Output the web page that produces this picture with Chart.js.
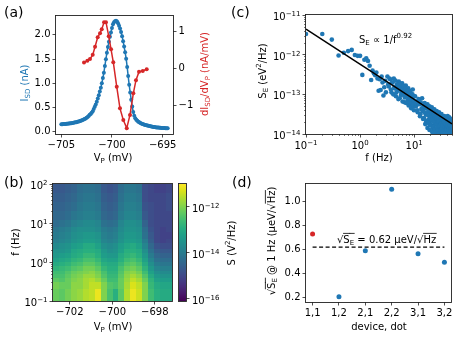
<!DOCTYPE html>
<html><head><meta charset="utf-8">
<script src="https://cdn.jsdelivr.net/npm/chart.js@4/dist/chart.umd.min.js"></script>
<style>
html,body{margin:0;padding:0;background:#fff;overflow:hidden}
#fig{position:relative;width:463px;height:346px;background:#fff}
#fig canvas{position:absolute;left:0;top:0;width:463px;height:346px}
</style></head><body>
<div id="fig">
<canvas id="cA" width="463" height="346"></canvas>
<canvas id="cB" width="463" height="346"></canvas>
<canvas id="cCB" width="463" height="346"></canvas>
<canvas id="cC" width="463" height="346"></canvas>
<canvas id="cD" width="463" height="346"></canvas>
</div>
<script>
// ================= DATA =================
// (a) I_SD vs V_P (grid start/step) and dI/dV
const blueVStart = -705.0, blueVStep = 0.1;
const blueISD = [
 0.155,0.157,0.159,0.161,0.163,0.165,0.167,0.170,0.172,0.175,
 0.178,0.182,0.186,0.190,0.195,0.200,0.206,0.213,0.220,0.227,
 0.235,0.243,0.252,0.264,0.276,0.290,0.308,0.328,0.350,0.370,
 0.392,0.425,0.470,0.515,0.565,0.620,0.685,0.755,0.830,0.910,
 1.000,1.110,1.220,1.360,1.500,1.630,1.750,1.860,1.960,2.050,
 2.140,2.220,2.260,2.280,2.290,2.275,2.240,2.190,2.130,2.060,
 1.970,1.870,1.760,1.640,1.510,1.340,1.150,0.970,0.810,0.660,
 0.520,0.410,0.330,0.280,0.250,0.228,0.210,0.195,0.182,0.170,
 0.162,0.155,0.148,0.141,0.135,0.129,0.124,0.119,0.114,0.109,
 0.104,0.100,0.097,0.094,0.091,0.089,0.087,0.085,0.083,0.081,
 0.079,0.078,0.077,0.076,0.075,0.074];
const redV  = [-702.76,-702.43,-702.17,-701.90,-701.67,-701.41,-701.18,-701.01,-700.78,-700.59,-700.32,-700.09,-699.87,-699.53,-699.21,-698.88,-698.54,-698.22,-697.89,-697.63,-697.33,-696.96,-696.57];
const redDI = [0.16,0.21,0.26,0.37,0.59,0.85,0.96,1.07,1.26,1.26,0.88,0.52,0.17,-0.50,-1.09,-1.41,-1.63,-1.27,-0.68,-0.32,-0.09,-0.07,-0.02];
const aTicksX = [-705,-700,-695];
const aTicksY = [0,0.5,1.0,1.5,2.0];
const aTicksY2 = [-1,0,1];

// (b) noise spectrogram, log10 S (V^2/Hz); rows = frequency bands, cols = V_P bins
const heatVEdges = [-702.79,-702.51,-702.23,-701.95,-701.67,-701.39,-701.11,-700.83,-700.55,-700.27,-699.99,-699.71,-699.43,-699.15,-698.87,-698.59,-698.31,-698.03,-697.75,-697.47,-697.19];
const heatFEdges = [0.1,0.2,0.3,0.4,0.5,0.6,0.8,1,1.3,1.7,2.2,3,4,6,8,12,20,35,60,100];
const heatLogS = [
 [-12.2,-12.3,-12.1,-11.9,-11.8,-11.6,-11.5,-11.15,-12.0,-12.5,-12.9,-12.3,-11.6,-11.15,-11.4,-12.0,-12.6,-12.9,-13.0,-13.0],
 [-12.1,-12.2,-12.2,-11.9,-11.9,-11.7,-11.5,-11.5,-12.0,-12.4,-12.5,-12.2,-11.7,-11.3,-11.5,-12.0,-12.7,-13.0,-13.1,-13.1],
 [-12.3,-12.4,-12.2,-12.0,-11.9,-11.7,-11.6,-11.8,-12.2,-12.6,-12.6,-12.2,-11.8,-11.5,-11.7,-12.2,-12.8,-13.2,-13.3,-13.3],
 [-12.5,-12.5,-12.3,-12.1,-12.0,-11.8,-11.8,-12.0,-12.4,-12.7,-12.7,-12.3,-11.9,-11.7,-11.9,-12.4,-13.0,-13.4,-13.5,-13.5],
 [-12.6,-12.6,-12.4,-12.2,-12.1,-12.0,-11.9,-12.1,-12.5,-12.8,-12.8,-12.4,-12.0,-11.9,-12.1,-12.6,-13.2,-13.6,-13.7,-13.7],
 [-12.8,-12.7,-12.6,-12.4,-12.3,-12.1,-12.1,-12.3,-12.7,-12.9,-12.9,-12.5,-12.2,-12.1,-12.3,-12.8,-13.4,-13.8,-13.9,-13.9],
 [-13.0,-12.9,-12.8,-12.6,-12.5,-12.3,-12.3,-12.5,-12.9,-13.0,-13.0,-12.7,-12.4,-12.3,-12.5,-13.0,-13.6,-14.0,-14.1,-14.1],
 [-13.2,-13.1,-13.0,-12.8,-12.7,-12.5,-12.5,-12.7,-13.1,-13.2,-13.2,-12.9,-12.6,-12.5,-12.7,-13.2,-13.8,-14.2,-14.3,-14.3],
 [-13.4,-13.3,-13.2,-13.0,-12.9,-12.7,-12.7,-12.9,-13.3,-13.4,-13.4,-13.0,-12.8,-12.7,-12.9,-13.4,-14.0,-14.4,-14.5,-14.5],
 [-13.5,-13.5,-13.4,-13.1,-13.0,-12.9,-12.9,-13.0,-13.4,-13.6,-13.5,-13.2,-12.9,-12.9,-13.0,-13.6,-14.2,-14.6,-14.7,-14.7],
 [-13.7,-13.6,-13.5,-13.3,-13.2,-13.0,-13.0,-13.2,-13.6,-13.7,-13.6,-13.3,-13.1,-13.0,-13.2,-13.8,-14.4,-14.8,-14.9,-14.9],
 [-13.9,-13.8,-13.7,-13.5,-13.4,-13.3,-13.3,-13.4,-13.8,-13.9,-13.8,-13.5,-13.3,-13.3,-13.4,-14.0,-14.6,-15.0,-15.1,-15.0],
 [-14.0,-13.9,-13.8,-13.6,-13.5,-13.4,-13.4,-13.5,-13.9,-14.0,-13.9,-13.6,-13.4,-13.4,-13.5,-14.2,-14.7,-15.0,-15.1,-15.1],
 [-14.1,-14.0,-13.9,-13.7,-13.6,-13.6,-13.6,-13.7,-14.0,-14.1,-14.0,-13.7,-13.5,-13.5,-13.6,-14.3,-14.8,-15.0,-15.1,-15.0],
 [-14.3,-14.2,-14.1,-13.9,-13.8,-13.7,-13.7,-13.8,-14.2,-14.3,-14.2,-13.8,-13.6,-13.6,-13.7,-14.5,-14.9,-15.0,-15.0,-15.0],
 [-14.4,-14.4,-14.3,-14.1,-14.0,-13.9,-13.9,-14.0,-14.4,-14.5,-14.4,-14.0,-13.8,-13.8,-13.9,-14.7,-14.9,-15.0,-15.0,-15.0],
 [-14.5,-14.5,-14.4,-14.3,-14.1,-14.0,-14.0,-14.1,-14.5,-14.6,-14.5,-14.1,-13.9,-13.9,-14.0,-14.8,-14.9,-15.0,-15.0,-14.9],
 [-14.6,-14.6,-14.5,-14.4,-14.2,-14.1,-14.1,-14.2,-14.6,-14.7,-14.6,-14.2,-14.0,-14.0,-14.1,-14.9,-15.0,-15.0,-15.0,-14.9],
 [-14.7,-14.7,-14.6,-14.5,-14.3,-14.2,-14.2,-14.3,-14.7,-14.8,-14.7,-14.3,-14.1,-14.1,-14.2,-14.9,-15.0,-15.1,-15.1,-15.0]];
const cmapMinLog = -16.1, cmapMaxLog = -11.0;
const bTicksX = [-702,-700,-698];
const bTicksYExp = [-1,0,1,2];
const cbTicksExp = [-16,-14,-12];

// (c) S_E spectrum, log10 S_E (eV^2/Hz)
const specLowF = [0.1,0.2,0.3,0.4,0.5,0.6,0.7,0.8,0.9,1.0,1.1,1.2,1.3,1.4,1.5,1.6,1.7,1.8,1.9,2.0,2.1,2.2,2.3,2.4,2.5,2.6,2.7,2.8,2.9,3.0];
const specLowLogS = [-11.48,-11.48,-11.62,-12.02,-11.95,-11.91,-11.88,-12.01,-12.03,-12.03,-12.51,-12.13,-12.09,-12.16,-12.28,-12.64,-12.40,-12.47,-12.52,-12.45,-12.60,-12.91,-12.62,-12.89,-12.55,-12.70,-13.03,-12.82,-12.66,-12.95];
const specMidStart = 3.2, specMidStep = 0.2;
const specMidLogS = [-12.55,-12.80,-12.62,-12.95,-12.70,-12.60,-12.85,-13.05,-12.75,-12.90,
 -12.68,-13.10,-12.80,-12.95,-12.72,-13.00,-12.85,-13.20,-12.90,-12.78,
 -13.05,-12.95,-13.15,-12.85,-13.00,-13.25,-12.92,-13.10,-13.35,-13.00,
 -13.15,-12.88,-13.20,-13.05,-13.30];
const specMid2Start = 3.3, specMid2Step = 0.2;
const specMid2LogS = [-12.75,-12.60,-12.88,-12.70,-13.00,-12.82,-12.65,-12.95,-12.78,-13.12,
 -12.85,-12.72,-13.02,-12.90,-13.18,-12.80,-12.98,-13.08,-12.86,-13.22,
 -12.95,-13.05,-12.90,-13.28,-13.10,-12.98,-13.20,-13.05,-13.32,-13.12,
 -13.00,-13.25,-13.15,-13.40];
const specHiAStart = 10.4, specHiAStep = 0.4;
const specHiALogS = [
 -13.05,-13.30,-13.18,-13.45,-13.12,-13.25,-13.55,-13.20,-13.38,-13.10,
 -13.42,-13.28,-13.60,-13.22,-13.35,-13.50,-13.30,-13.68,-13.25,-13.45,
 -13.38,-13.62,-13.30,-13.52,-13.75,-13.40,-13.58,-13.33,-13.66,-13.48,
 -13.80,-13.45,-13.60,-13.38,-13.72,-13.55,-13.90,-13.48,-13.65,-13.42,
 -13.70,-13.58,-13.85,-13.50,-13.95,-13.62,-13.45,-13.78,-13.60,-13.88,
 -13.55,-13.70,-13.98,-13.62,-13.50,-13.82,-13.68,-13.92,-13.58,-13.75,
 -13.85,-13.62,-13.72,-13.96,-13.55,-13.80,-13.68,-13.90,-13.60,-13.78,
 -13.70,-13.92,-13.58,-13.85,-13.75,-13.99,-13.65,-13.82,-13.55,-13.90,
 -13.78,-13.62,-13.95,-13.70,-13.85,-13.58,-13.98,-13.72,-13.88,-13.65,
 -13.80,-13.95,-13.68,-13.90,-13.75,-13.62,-13.98,-13.85,-13.70,-13.92];
const specHiBStart = 10.6, specHiBStep = 0.8;
const specHiBLogS = [
 -13.22,-13.40,-13.15,-13.50,-13.35,-13.62,-13.45,-13.30,-13.70,-13.52,
 -13.40,-13.78,-13.58,-13.45,-13.85,-13.65,-13.52,-13.92,-13.70,-13.60,
 -13.98,-13.75,-13.55,-13.88,-13.68,-13.80,-13.95,-13.62,-13.85,-13.72,
 -13.99,-13.78,-13.66,-13.90,-13.82,-13.60,-13.95,-13.75,-13.88,-13.70,
 -13.97,-13.80,-13.66,-13.92,-13.85,-13.75,-13.99,-13.82,-13.90,-13.78];
const specHiCStart = 15.2, specHiCStep = 0.8;
const specHiCLogS = [
 -13.60,-13.75,-13.68,-13.85,-13.72,-13.90,-13.78,-13.65,-13.95,-13.82,
 -13.70,-13.88,-13.97,-13.76,-13.84,-13.92,-13.68,-13.99,-13.80,-13.90,
 -13.74,-13.96,-13.86,-13.78,-13.93,-13.70,-13.98,-13.84,-13.90,-13.76,
 -13.95,-13.88,-13.80,-13.97,-13.72,-13.92,-13.85,-13.99,-13.78,-13.94,
 -13.86,-13.97,-13.82,-13.93];
const fitF = [0.1, 50];
const fitS = [4.4e-12, 1.8e-14];
const fitExponent = '0.92';
const cTicksXExp = [-1,0,1];
const cTicksYExp = [-14,-13,-12,-11];

// (d) sqrt(S_E) at 1 Hz per device/dot
const dotLabels = ['1,1','1,2','2,1','2,2','3,1','3,2'];
const dotSqrtSE = [0.73,0.21,0.59,1.10,0.565,0.495];
const meanSqrtSE = 0.62;
const dTicksY = [0.2,0.4,0.6,0.8,1.0];

// ================= HELPERS =================
const W = 463, H = 346;
const FONT = "'DejaVu Sans', sans-serif";
const BLUE = '#1f77b4', RED = '#d62728';
const VIR = ['#440154','#48186a','#472d7b','#424086','#3b528b','#33638d','#2c728e','#26828e','#21918c','#1fa088','#28ae80','#3fbc73','#5ec962','#84d44b','#addc30','#d8e219','#fde725'];
function hx(h){ return [parseInt(h.substr(1,2),16),parseInt(h.substr(3,2),16),parseInt(h.substr(5,2),16)]; }
function viridis(t){
  t = Math.max(0, Math.min(1, t));
  const f = t*16, i = Math.min(15, Math.floor(f)), u = f - i;
  const a = hx(VIR[i]), b = hx(VIR[i+1]);
  return 'rgb(' + a.map((v,k)=>Math.round(v+(b[k]-v)*u)).join(',') + ')';
}
const minus = v => (v < 0 ? '\u2212' : '') + Math.abs(v);
const supE = e => String(e).replace('-', '\u2212');

function rich(ctx, parts, x, y, o) {
  o = o || {};
  const size = o.size || 10;
  const segs = []; let w = 0;
  for (const p of parts) {
    const t = p[0], st = p[1] || '';
    const small = st.indexOf('sub') >= 0 || st.indexOf('sup') >= 0;
    const fs = small ? size*0.7 : size;
    ctx.font = fs + 'px ' + FONT;
    const sw = ctx.measureText(t).width;
    segs.push({t, st, fs, sw, x: w}); w += sw;
  }
  ctx.save();
  ctx.translate(x, y);
  if (o.rot) ctx.rotate(o.rot);
  const x0 = o.align === 'left' ? 0 : (o.align === 'right' ? -w : -w/2);
  const base = size*0.36;
  ctx.fillStyle = o.color || '#000'; ctx.strokeStyle = o.color || '#000';
  ctx.textBaseline = 'alphabetic'; ctx.textAlign = 'left';
  for (const s of segs) {
    ctx.font = s.fs + 'px ' + FONT;
    let dy = 0;
    if (s.st.indexOf('sub') >= 0) dy = size*0.22;
    if (s.st.indexOf('sup') >= 0) dy = -size*0.42;
    ctx.fillText(s.t, x0 + s.x, base + dy);
    if (s.st.indexOf('ov') >= 0) {
      const oy = base - size*0.92;
      ctx.lineWidth = 0.8; ctx.beginPath();
      ctx.moveTo(x0 + s.x - 0.3, oy); ctx.lineTo(x0 + s.x + s.sw + 0.5, oy); ctx.stroke();
    }
  }
  ctx.restore();
}
function pad(l, t, r, b, wl, wr, hb) {
  return {left: l - wl, top: t, right: W - r - wr, bottom: H - b - hb};
}
function axis(pos, min, max, vals, fmt, size, type) {
  const horiz = pos === 'bottom';
  return {
    type: type || 'linear', position: pos, min: min, max: max,
    border: {display: false},
    grid: {drawOnChartArea: false, drawTicks: true, tickLength: 3.5, color: '#222', lineWidth: 0.8},
    ticks: {font: {family: FONT, size: 10}, color: '#000', padding: 2,
            autoSkip: false, maxRotation: 0, minRotation: 0,
            callback: (v) => fmt ? fmt(v) : ''},
    afterBuildTicks: s => { s.ticks = vals.map(v => ({value: v})); },
    afterFit: s => { if (horiz) s.height = size; else s.width = size; }
  };
}
function common(o) {
  return Object.assign({responsive: false, animation: false, devicePixelRatio: 1, events: [],
    plugins: {legend: {display: false}, tooltip: {enabled: false}}}, o);
}
function logLabels(ctx, scale, exps, side) {
  exps.forEach(e => {
    const p = scale.getPixelForValue(Math.pow(10, e));
    const parts = [['10'], [supE(e), 'sup']];
    if (side === 'left') rich(ctx, parts, scale.right - 5.5, p + 1.5, {align: 'right'});
    else if (side === 'right') rich(ctx, parts, scale.left + 6, p + 1.5, {align: 'left'});
    else rich(ctx, parts, p, scale.top + 11.5, {align: 'center'});
  });
}
function minorTicks(ctx, scale, lo, hi, side) {
  ctx.save(); ctx.strokeStyle = '#222'; ctx.lineWidth = 0.6;
  for (let e = lo; e < hi; e++) for (let k = 2; k <= 9; k++) {
    const v = k*Math.pow(10, e);
    if (v < scale.min*0.999 || v > scale.max*1.001) continue;
    const p = Math.round(scale.getPixelForValue(v)) + 0.5;
    ctx.beginPath();
    if (side === 'left') { ctx.moveTo(scale.right, p); ctx.lineTo(scale.right - 2, p); }
    else { ctx.moveTo(p, scale.top); ctx.lineTo(p, scale.top + 2); }
    ctx.stroke();
  }
  ctx.restore();
}
function figPlugin(o) {
  return {
    id: 'figdeco',
    beforeDatasetsDraw(chart) { if (o.under) o.under(chart); },
    afterDraw(chart) {
      const ctx = chart.ctx, a = chart.chartArea;
      ctx.save(); ctx.strokeStyle = '#222'; ctx.lineWidth = 0.9;
      ctx.strokeRect(a.left - 0.5, a.top - 0.5, a.right - a.left + 1, a.bottom - a.top + 1);
      ctx.restore();
      if (o.after) o.after(chart);
      (o.texts || []).forEach(t => rich(ctx, t.p, t.x, t.y, t));
    }
  };
}
const ROT = -Math.PI/2;

// ================= (a) =================
const bluePts = blueISD.map((v, i) => ({x: blueVStart + i*blueVStep, y: v}));
const redPts = redV.map((v, i) => ({x: v, y: redDI[i]}));
new Chart(document.getElementById('cA'), {
  type: 'scatter',
  data: {datasets: [
    {data: redPts, yAxisID: 'y2', showLine: true, borderColor: RED, backgroundColor: RED,
     pointBackgroundColor: RED, pointBorderWidth: 0, pointRadius: 2, borderWidth: 1.5},
    {data: bluePts, yAxisID: 'y', showLine: true, borderColor: BLUE, backgroundColor: BLUE,
     pointBackgroundColor: BLUE, pointBorderWidth: 0, pointRadius: 2, borderWidth: 1.5}
  ]},
  options: common({
    layout: {padding: pad(56, 16, 173, 134, 40, 30, 30)},
    scales: {
      x: axis('bottom', -705.525, -693.975, aTicksX, minus, 30),
      y: axis('left', -0.045, 2.39, aTicksY, v => v.toFixed(1), 40),
      y2: axis('right', -1.79, 1.43, aTicksY2, minus, 30)
    }
  }),
  plugins: [figPlugin({texts: [
    {p: [['(a)']], x: 4, y: 12, size: 14, align: 'left'},
    {p: [['V'], ['P', 'sub'], [' (mV)']], x: 113, y: 157},
    {p: [['I'], ['SD', 'sub'], [' (nA)']], x: 24, y: 83, rot: ROT, color: BLUE},
    {p: [['dI'], ['SD', 'sub'], ['/dV'], ['P', 'sub'], [' (nA/mV)']], x: 204, y: 74, rot: ROT, color: RED}
  ]})]
});

// ================= (b) heatmap =================
function drawHeat(chart) {
  const ctx = chart.ctx, a = chart.chartArea, xs = chart.scales.x, ys = chart.scales.y;
  ctx.save(); ctx.beginPath(); ctx.rect(a.left, a.top, a.right - a.left, a.bottom - a.top); ctx.clip();
  for (let r = 0; r < heatLogS.length; r++) {
    const yb = Math.round(ys.getPixelForValue(heatFEdges[r]));
    const yt = Math.round(ys.getPixelForValue(heatFEdges[r+1]));
    for (let c = 0; c < heatLogS[r].length; c++) {
      const x0 = Math.round(xs.getPixelForValue(heatVEdges[c]));
      const x1 = Math.round(xs.getPixelForValue(heatVEdges[c+1]));
      ctx.fillStyle = viridis((heatLogS[r][c] - cmapMinLog)/(cmapMaxLog - cmapMinLog));
      ctx.fillRect(x0, yt, x1 - x0, yb - yt);
    }
  }
  ctx.restore();
}
new Chart(document.getElementById('cB'), {
  type: 'scatter',
  data: {datasets: []},
  options: common({
    layout: {padding: pad(53, 184, 172, 301, 40, 0, 30)},
    scales: {
      x: axis('bottom', heatVEdges[0], heatVEdges[heatVEdges.length-1], bTicksX, minus, 30),
      y: axis('left', 0.1, 100, bTicksYExp.map(e => Math.pow(10, e)), null, 40, 'logarithmic')
    }
  }),
  plugins: [figPlugin({
    under: drawHeat,
    after: ch => { minorTicks(ch.ctx, ch.scales.y, -1, 2, 'left'); logLabels(ch.ctx, ch.scales.y, bTicksYExp, 'left'); },
    texts: [
      {p: [['(b)']], x: 4, y: 182, size: 14, align: 'left'},
      {p: [['V'], ['P', 'sub'], [' (mV)']], x: 113, y: 326.5},
      {p: [['f (Hz)']], x: 15, y: 242, rot: ROT}
    ]})]
});

// colorbar
function drawBar(chart) {
  const ctx = chart.ctx, a = chart.chartArea, ys = chart.scales.y;
  for (let py = Math.floor(a.top); py < Math.ceil(a.bottom); py++) {
    const lv = Math.log10(ys.getValueForPixel(py + 0.5));
    ctx.fillStyle = viridis((lv - cmapMinLog)/(cmapMaxLog - cmapMinLog));
    ctx.fillRect(a.left, py, a.right - a.left, 1);
  }
}
new Chart(document.getElementById('cCB'), {
  type: 'scatter',
  data: {datasets: []},
  options: common({
    layout: {padding: pad(179, 184, 186, 301, 0, 40, 0)},
    scales: {
      x: {display: false, min: 0, max: 1},
      y: axis('right', Math.pow(10, cmapMinLog), Math.pow(10, cmapMaxLog), cbTicksExp.map(e => Math.pow(10, e)), null, 40, 'logarithmic')
    }
  }),
  plugins: [figPlugin({
    under: drawBar,
    after: ch => logLabels(ch.ctx, ch.scales.y, cbTicksExp, 'right'),
    texts: [{p: [['S (V'], ['2', 'sup'], ['/Hz)']], x: 231, y: 243, rot: ROT}]
  })]
});

// ================= (c) =================
const specPts = [];
specLowF.forEach((f, i) => specPts.push({x: f, y: Math.pow(10, specLowLogS[i])}));
specMidLogS.forEach((v, i) => specPts.push({x: specMidStart + i*specMidStep, y: Math.pow(10, v)}));
specMid2LogS.forEach((v, i) => specPts.push({x: specMid2Start + i*specMid2Step, y: Math.pow(10, v)}));
specHiALogS.forEach((v, i) => specPts.push({x: specHiAStart + i*specHiAStep, y: Math.pow(10, v)}));
specHiBLogS.forEach((v, i) => specPts.push({x: specHiBStart + i*specHiBStep, y: Math.pow(10, v)}));
specHiCLogS.forEach((v, i) => specPts.push({x: specHiCStart + i*specHiCStep, y: Math.pow(10, v)}));
new Chart(document.getElementById('cC'), {
  type: 'scatter',
  data: {datasets: [
    {data: fitF.map((f, i) => ({x: f, y: fitS[i]})), showLine: true, borderColor: '#000', borderWidth: 1.5, pointRadius: 0},
    {data: specPts, pointBackgroundColor: BLUE, backgroundColor: BLUE, pointBorderWidth: 0, pointRadius: 2.3}
  ]},
  options: common({
    layout: {padding: pad(306, 15, 452, 134, 50, 0, 30)},
    scales: {
      x: axis('bottom', 0.1, 50, cTicksXExp.map(e => Math.pow(10, e)), null, 30, 'logarithmic'),
      y: axis('left', 1e-14, 1e-11, cTicksYExp.map(e => Math.pow(10, e)), null, 50, 'logarithmic')
    }
  }),
  plugins: [figPlugin({
    after: ch => {
      minorTicks(ch.ctx, ch.scales.x, -1, 2, 'bottom');
      minorTicks(ch.ctx, ch.scales.y, -14, -11, 'left');
      logLabels(ch.ctx, ch.scales.x, cTicksXExp, 'bottom');
      logLabels(ch.ctx, ch.scales.y, cTicksYExp, 'left');
    },
    texts: [
      {p: [['(c)']], x: 231, y: 12, size: 14, align: 'left'},
      {p: [['f (Hz)']], x: 379, y: 157},
      {p: [['S'], ['E', 'sub'], [' (eV'], ['2', 'sup'], ['/Hz)']], x: 262, y: 71, rot: ROT},
      {p: [['S'], ['E', 'sub'], [' \u221D 1/f'], [fitExponent, 'sup']], x: 359, y: 39, align: 'left'}
    ]})]
});

// ================= (d) =================
new Chart(document.getElementById('cD'), {
  type: 'scatter',
  data: {datasets: [
    {data: [{x: 0, y: meanSqrtSE}, {x: dotLabels.length - 1, y: meanSqrtSE}], showLine: true,
     borderColor: '#000', borderWidth: 1.2, borderDash: [4, 2.5], pointRadius: 0},
    {data: dotSqrtSE.map((v, i) => ({x: i, y: v})),
     pointBackgroundColor: dotSqrtSE.map((v, i) => i === 0 ? RED : BLUE), pointBorderWidth: 0, pointRadius: 2.5}
  ]},
  options: common({
    layout: {padding: pad(306, 184, 451, 302, 40, 0, 30)},
    scales: {
      x: axis('bottom', -0.25, 5.25, dotLabels.map((l, i) => i), v => dotLabels[v], 30),
      y: axis('left', 0.1655, 1.1445, dTicksY, v => v.toFixed(1), 40)
    }
  }),
  plugins: [figPlugin({texts: [
    {p: [['(d)']], x: 232, y: 182, size: 14, align: 'left'},
    {p: [['device, dot']], x: 379, y: 326.5},
    {p: [['\u221A'], ['S', 'ov'], ['E', 'sub ov'], [' @ 1 Hz (\u03BCeV/'], ['\u221A'], ['Hz', 'ov'], [')']], x: 271, y: 241, rot: ROT},
    {p: [['\u221A'], ['S', 'ov'], ['E', 'sub ov'], [' = ' + meanSqrtSE + ' \u03BCeV/'], ['\u221A'], ['Hz', 'ov']], x: 337, y: 239, align: 'left'}
  ]})]
});
</script>
</body></html>
